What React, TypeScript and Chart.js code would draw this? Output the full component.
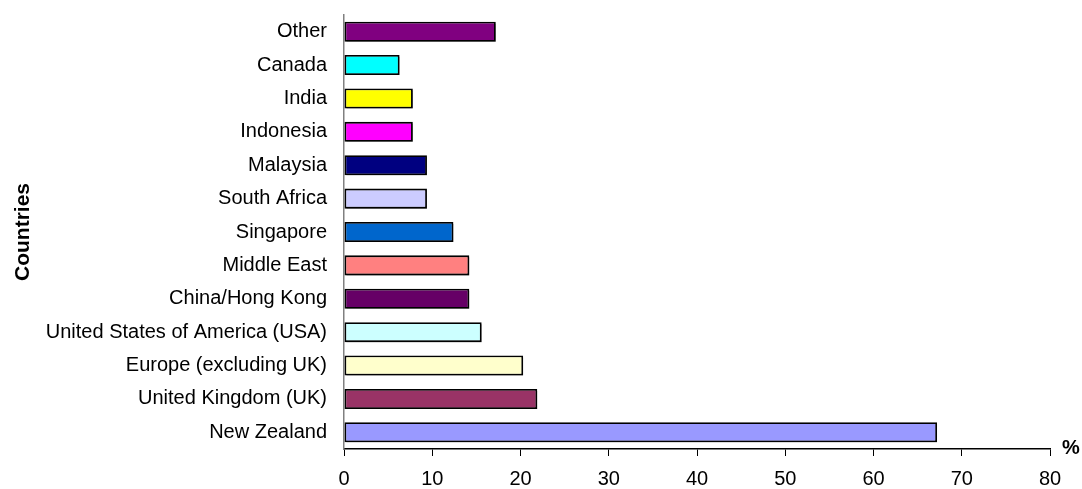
import React, { useEffect, useRef } from "react";
import { Chart, registerables } from "chart.js";

Chart.register(...registerables);

const categories = [
  "Other",
  "Canada",
  "India",
  "Indonesia",
  "Malaysia",
  "South Africa",
  "Singapore",
  "Middle East",
  "China/Hong Kong",
  "United States of America (USA)",
  "Europe (excluding UK)",
  "United Kingdom (UK)",
  "New Zealand",
];

const percentages = [17.2, 6.3, 7.8, 7.8, 9.4, 9.4, 12.4, 14.2, 14.2, 15.6, 20.3, 21.9, 67.2];

const barColors = [
  "#800080",
  "#00FFFF",
  "#FFFF00",
  "#FF00FF",
  "#000080",
  "#CCCCFF",
  "#0066CC",
  "#FF8080",
  "#660066",
  "#CCFFFF",
  "#FFFFCC",
  "#993366",
  "#9999FF",
];

const xTicks = [0, 10, 20, 30, 40, 50, 60, 70, 80];

const FONT = "'Liberation Sans', Arial, Helvetica, sans-serif";

const shadowPlugin = {
  id: "barShadow",
  beforeDatasetsDraw(chart: any) {
    const ctx = chart.ctx;
    ctx.save();
    ctx.shadowColor = "rgba(0,0,0,0.35)";
    ctx.shadowOffsetX = 2;
    ctx.shadowOffsetY = 2;
    ctx.shadowBlur = 0;
  },
  afterDatasetsDraw(chart: any) {
    chart.ctx.restore();
  },
};

const percentPlugin = {
  id: "percentLabel",
  afterDraw(chart: any) {
    const ctx = chart.ctx;
    const area = chart.chartArea;
    ctx.save();
    ctx.font = `bold 20px ${FONT}`;
    ctx.fillStyle = "#000";
    ctx.textAlign = "center";
    ctx.textBaseline = "middle";
    ctx.fillText("%", area.right + 21, area.bottom - 1);
    ctx.restore();
  },
};

export default function App() {
  const ref = useRef<HTMLCanvasElement | null>(null);

  useEffect(() => {
    if (!ref.current) return;
    const chart = new Chart(ref.current, {
      type: "bar",
      data: {
        labels: categories,
        datasets: [
          {
            data: percentages,
            backgroundColor: barColors,
            borderColor: "#000",
            borderWidth: 1.8,
            borderSkipped: false,
            barPercentage: 0.6,
            categoryPercentage: 1,
          },
        ],
      },
      options: {
        indexAxis: "y",
        animation: false,
        responsive: true,
        maintainAspectRatio: false,
        layout: { padding: { left: 0, top: 15, right: 32, bottom: 0 } },
        plugins: {
          legend: { display: false },
          tooltip: { enabled: false },
        },
        scales: {
          x: {
            min: 0,
            max: 80,
            afterBuildTicks: (scale: any) => {
              scale.ticks = xTicks.map((v) => ({ value: v }));
            },
            afterFit: (scale: any) => {
              scale.height = 40;
              scale.paddingLeft = 0;
              scale.paddingRight = 0;
            },
            grid: {
              display: true,
              drawOnChartArea: false,
              drawTicks: true,
              tickLength: 7,
              color: "#000",
            },
            border: { display: true, color: "#000", width: 1.5 },
            ticks: {
              color: "#000",
              font: { family: FONT, size: 20 },
              padding: 11,
              maxRotation: 0,
            },
          },
          y: {
            afterFit: (scale: any) => {
              scale.width = 344;
              scale.paddingTop = 0;
              scale.paddingBottom = 0;
            },
            grid: { display: false },
            border: { display: true, color: "#808080", width: 1.5 },
            ticks: {
              color: "#000",
              font: { family: FONT, size: 20 },
              padding: 9,
              autoSkip: false,
            },
            title: {
              display: true,
              text: "Countries",
              color: "#000",
              font: { family: FONT, size: 21, weight: "bold" },
              padding: { top: 11, bottom: 0 },
            },
          },
        },
      },
      plugins: [shadowPlugin, percentPlugin],
    } as any);
    return () => chart.destroy();
  }, []);

  return (
    <div style={{ position: "absolute", left: 0, top: 0, width: 1082, height: 489, background: "#fff" }}>
      <canvas ref={ref} />
    </div>
  );
}
